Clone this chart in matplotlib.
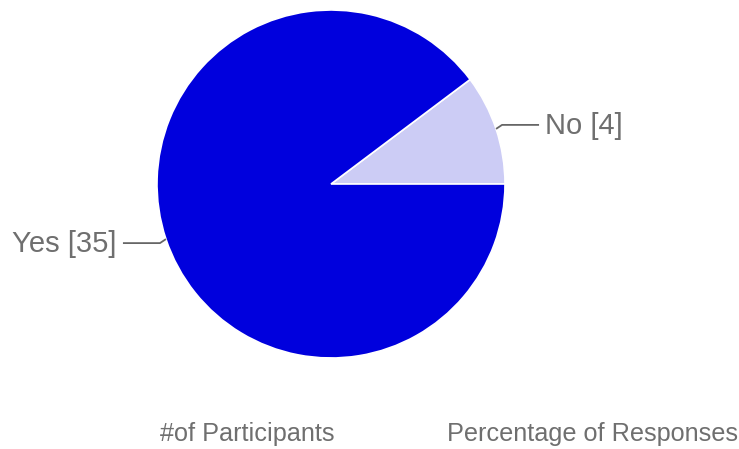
import numpy as np
import matplotlib
matplotlib.use("Agg")
import matplotlib.pyplot as plt

# Survey answers
categories = ["No", "Yes"]
counts = [4, 35]
colors = ["#ccccf5", "#0000dd"]
legend_items = ["#of Participants", "Percentage of Responses"]

W, H = 739, 449
fig = plt.figure(figsize=(W / 100, H / 100), dpi=100)
ax = fig.add_axes([0, 0, 1, 1])

cx, cy, r = 331, H - 184, 174
wedges, _ = ax.pie(counts, colors=colors, startangle=0, counterclock=True,
                   center=(cx, cy), radius=r, frame=True,
                   wedgeprops=dict(edgecolor="white", linewidth=1.2))
ax.set_xlim(0, W)
ax.set_ylim(0, H)
ax.set_aspect("equal")
ax.axis("off")

text_color = "#6f6f6f"
font = ["Liberation Sans", "DejaVu Sans"]

# Leader lines: short elbow away from the rim, then a horizontal run
for w, cat, n in zip(wedges, categories, counts):
    mid = np.deg2rad((w.theta1 + w.theta2) / 2)
    ex, ey = cx + r * np.cos(mid), cy + r * np.sin(mid)
    side = 1 if np.cos(mid) > 0 else -1
    kx = ex + side * 6
    ky = ey + 4 * np.sign(np.sin(mid))
    lx = ex + side * 43
    ax.plot([ex, kx, lx], [ey, ky, ky], color="#666666", lw=1.3,
            solid_capstyle="butt")
    ax.text(lx + side * 6, ky - 1, f"{cat} [{n}]",
            ha="left" if side > 0 else "right",
            va="center", fontsize=21, color=text_color, family=font)

ax.text(160, H - 434, legend_items[0], ha="left", va="center",
        fontsize=18.2, color=text_color, family=font)
ax.text(447, H - 434, legend_items[1], ha="left", va="center",
        fontsize=18.2, color=text_color, family=font)

fig.savefig("out.png", dpi=100, facecolor="white")
